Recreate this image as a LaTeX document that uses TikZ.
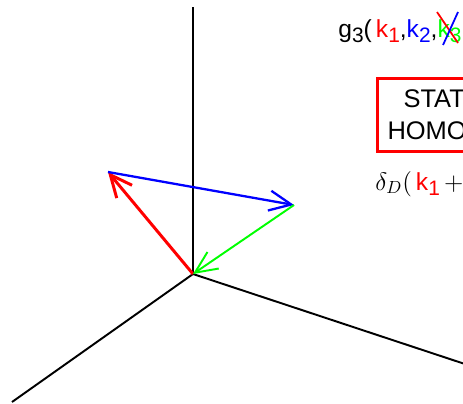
\documentclass[tikz,border=0pt]{standalone}
\usepackage{fontspec}
\setmainfont{Liberation Sans}
\usepackage{xcolor}
\usetikzlibrary{arrows.meta}

% large, lowered subscript
\newcommand{\lowix}[1]{\raisebox{-0.24em}{\fontsize{0.85\dimexpr\fontdimen6\font\relax}{1em}\selectfont #1}}

\begin{document}
\begin{tikzpicture}[x=0.2mm, y=-0.2mm,
    axis/.style={draw=black, line width=1.1pt},
    vec/.style={-{Straight Barb[length=4.4mm, width=4mm]}},
    redvec/.style={vec, draw=red, line width=1.7pt},
    bluevec/.style={vec, draw=blue, line width=1.3pt},
    greenvec/.style={vec, draw=green, line width=1.1pt},
    lbl/.style={anchor=base west, inner sep=0pt, font=\fontsize{14}{18}\selectfont},
    statbox/.style={draw=red, line width=1.7pt, anchor=north west, align=left,
                    minimum width=24mm, minimum height=14.6mm, text width=20mm,
                    inner xsep=2mm, font=\fontsize{14.5}{18.2}\selectfont}
  ]
    \useasboundingbox (0,0) rectangle (463,403);
    \clip (0,0) rectangle (463,403);

    % axes
    \coordinate (O)    at (193,274);
    \coordinate (ztop) at (193,7);
    \coordinate (xend) at (12,402);
    \coordinate (yend) at (480,369);
    \draw[axis] (O) -- (ztop);
    \draw[axis] (O) -- (xend);
    \draw[axis] (O) -- (yend);

    % wave vectors
    \coordinate (ka) at (108,172);
    \coordinate (kb) at (294,205);
    \draw[redvec]   (O)  -- (ka);
    \draw[bluevec]  (ka) -- (kb);
    \draw[greenvec] (kb) -- (O);

    % labels
    \node[lbl] (gfun) at (338,37)
      {g\lowix{3}(\,\textcolor{red}{k\lowix{1}},\textcolor{blue}{k\lowix{2}},\textcolor{green}{k\lowix{3}}};
    \draw[red, line width=1pt]  (437,12) -- (458,43);
    \draw[blue, line width=1pt] (458,12) -- (443,45);

    \node[statbox] (homog) at (376,77) {\hspace*{3.2mm}STAT\\HOMO};

    \node[lbl] (dirac) at (375,190)
      {$\delta_D($\,\textcolor{red}{k\lowix{1}}\,$+$};
\end{tikzpicture}
\end{document}
